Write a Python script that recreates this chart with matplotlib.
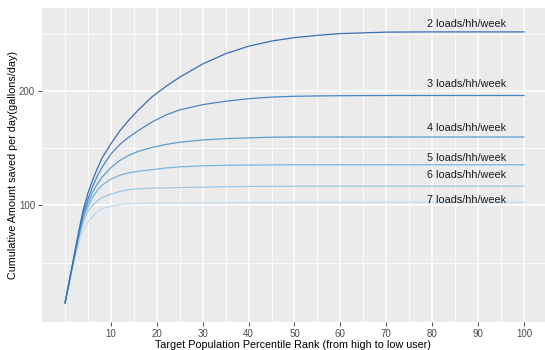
import numpy as np
import matplotlib
matplotlib.use("Agg")
import matplotlib.pyplot as plt

plt.rcParams['font.family'] = ['Liberation Sans', 'DejaVu Sans']

# percentile rank points
rank = [0, 1, 2, 3, 4, 5, 6, 7, 8, 10, 12, 14, 16, 19, 22, 25, 30, 35, 40, 45, 50, 55, 60, 70, 80, 100]

# cumulative savings (gallons/day) per loads/hh/week
loads2 = [15, 36, 57, 78, 97, 111, 122, 132, 141, 154, 165.5, 175, 183.5, 195, 204, 212, 223.5, 232.5, 239, 243.5, 246.5, 248.5, 250, 251.3, 251.5, 251.5]
loads3 = [15, 36, 56, 76, 94, 106, 116.5, 125.5, 133, 145, 153.5, 160, 165.5, 173, 179, 183.5, 188, 191, 193.2, 194.6, 195.3, 195.6, 195.8, 196, 196, 196]
loads4 = [15, 35, 55, 74, 91.5, 102.5, 111.5, 118.5, 124.5, 133, 139.5, 144, 147.3, 150.7, 153.3, 155.2, 157.2, 158.3, 159, 159.6, 159.8, 159.8, 159.8, 159.8, 159.8, 159.8]
loads5 = [15, 35, 54, 73, 89, 99, 107, 113, 117.5, 123, 126.5, 128.6, 129.9, 131.3, 132.7, 133.7, 134.6, 135.1, 135.3, 135.4, 135.5, 135.5, 135.5, 135.5, 135.5, 135.5]
loads6 = [15, 35, 54, 71, 86, 95, 100, 104, 107, 110, 112.3, 113.8, 114.6, 115.1, 115.4, 115.6, 116, 116.4, 116.6, 116.7, 116.8, 116.8, 116.8, 116.8, 116.8, 116.8]
loads7 = [15, 34, 52, 67, 79, 85.5, 90.5, 94.5, 97.3, 99.3, 100.7, 101.5, 101.8, 102, 102.1, 102.2, 102.3, 102.4, 102.5, 102.5, 102.6, 102.6, 102.7, 102.8, 102.8, 102.8]

series = [loads2, loads3, loads4, loads5, loads6, loads7]
labels = ["2 loads/hh/week", "3 loads/hh/week", "4 loads/hh/week",
          "5 loads/hh/week", "6 loads/hh/week", "7 loads/hh/week"]
label_x = 87.5
label_y = [258, 205.6, 167.5, 141.5, 126.2, 104.9]
colors = ['#3d6db5', '#4a86c5', '#5aa0d2', '#78b4dc', '#a0c8e4', '#c4dcee']

x_ticks = [10, 20, 30, 40, 50, 60, 70, 80, 90, 100]
x_minor = [0, 5, 15, 25, 35, 45, 55, 65, 75, 85, 95, 105]
y_ticks = [100, 200]
y_minor = [50, 150, 250]

fig = plt.figure(figsize=(5.45, 3.5), dpi=100)
ax = fig.add_axes([0.0765, 0.079, 0.9235, 0.897])
ax.set_facecolor('#EBEBEB')

# ggplot-like grid
for v in x_minor:
    ax.axvline(v, color='white', lw=0.55, zorder=0)
for v in x_ticks:
    ax.axvline(v, color='white', lw=1.1, zorder=0)
for v in y_minor:
    ax.axhline(v, color='white', lw=0.55, zorder=0)
for v in y_ticks:
    ax.axhline(v, color='white', lw=1.1, zorder=0)

# light lines first so the dark ones sit on top
for vals, c in list(zip(series, colors))[::-1]:
    ax.plot(rank, vals, color=c, lw=0.9, zorder=2)

for txt, ly in zip(labels, label_y):
    ax.text(label_x, ly, txt, ha='center', va='center', fontsize=7.8, color='#1a1a1a', zorder=3)

ax.set_xlim(-5.1, 104.6)
ax.set_ylim(-2, 272)
ax.set_xticks(x_ticks)
ax.set_yticks(y_ticks)
ax.tick_params(axis='both', length=2.8, width=0.6, color='#333333', labelsize=7, labelcolor='#4D4D4D', pad=2)
for s in ax.spines.values():
    s.set_visible(False)

ax.set_xlabel("Target Population Percentile Rank (from high to low user)", fontsize=7.75, labelpad=0.5)
ax.set_ylabel("Cumulative Amount saved per day(gallons/day)", fontsize=7.75, labelpad=0.5)

fig.savefig("out.png", dpi=100)
